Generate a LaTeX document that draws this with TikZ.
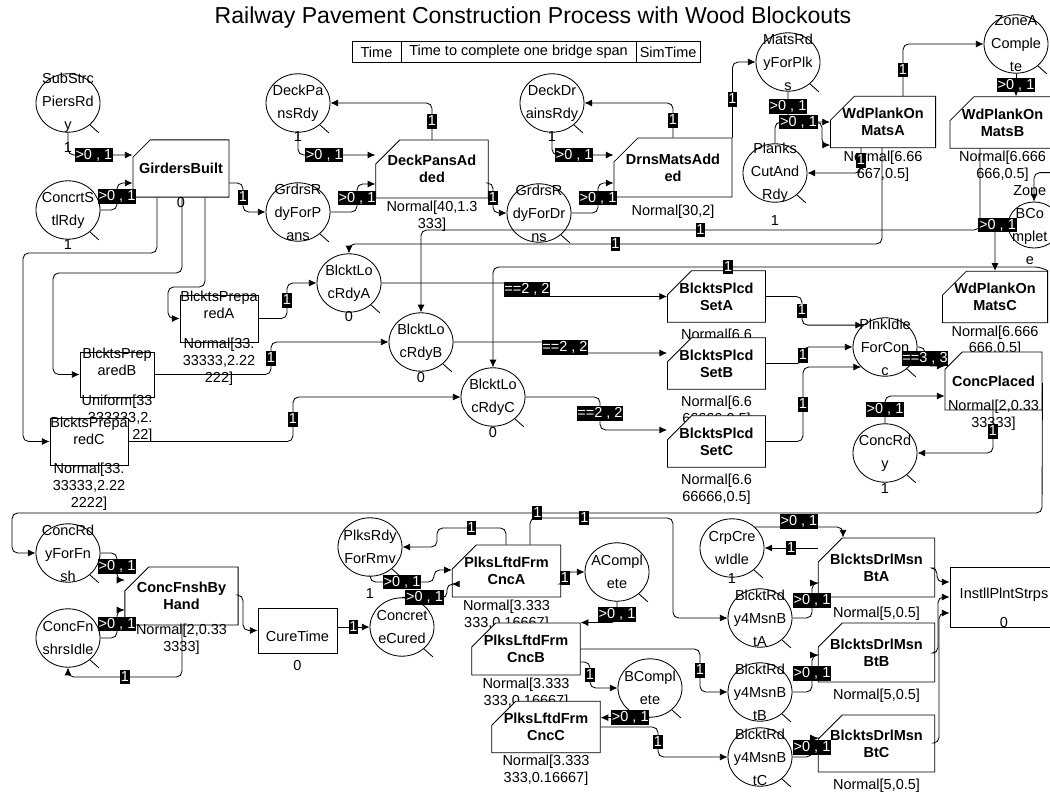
\documentclass[tikz,border=0pt]{standalone}
\usepackage{fontspec}
\setmainfont{Liberation Sans}
\usetikzlibrary{shapes.geometric, shapes.misc, arrows.meta, positioning}

\begin{document}
\begin{tikzpicture}[x=0.025cm, y=-0.025cm,
  queue/.style={ellipse, draw, fill=white, line width=0.6pt,
                minimum width=1.6cm, minimum height=1.46cm, inner sep=0pt,
                append after command={(\tikzlastnode.-45) edge[line width=0.6pt] ++(9,8)}},
  qtext/.style={align=center, inner sep=0pt, font=\fontsize{10.3}{16.4}\selectfont},
  tokencount/.style={inner sep=0pt, font=\fontsize{10.3}{12}\selectfont},
  combi/.style={chamfered rectangle, chamfered rectangle corners=north west,
                chamfered rectangle xsep=8.5pt, chamfered rectangle ysep=8.5pt,
                draw, fill=white, line width=0.6pt, inner sep=0pt, align=center,
                font=\fontsize{10.3}{12}\selectfont\bfseries},
  normal/.style={rectangle, draw, fill=white, line width=0.6pt, inner sep=0pt,
                 align=center, font=\fontsize{10.3}{12}\selectfont},
  dist/.style={align=center, inner sep=0pt, label distance=1.5pt,
               font=\fontsize{10.3}{12}\selectfont},
  arc/.style={-{Latex[length=5.5pt,width=5pt]}, line width=0.6pt, rounded corners=4pt},
  arclbl/.style={fill=black, text=white, sharp corners, inner xsep=0.6pt, inner ysep=0.7pt,
                 text height=7.4pt, text depth=1.6pt, font=\fontsize{10.3}{12}\selectfont},
  tblcell/.style={draw, line width=0.6pt, minimum height=0.525cm, inner sep=0pt,
                  outer sep=0pt, font=\fontsize{10.3}{12}\selectfont},
]
  \path[use as bounding box, fill=white] (0,0) rectangle (1050,793);

  % Title and result table
  \node[font=\fontsize{16.4}{18}\selectfont] (title) at (533,18)
    {Railway Pavement Construction Process with Wood Blockouts};
  \node[tblcell, minimum width=1.225cm] (tTime) at (376.5,52) {Time};
  \node[tblcell, minimum width=5.875cm, right=0pt of tTime] (tSpan) {Time to complete one bridge span};
  \node[tblcell, minimum width=1.6cm, right=0pt of tSpan] (tSim) {SimTime};

  % Girders and decks
  \node[queue, label={[qtext]center:{SubStrc\\PiersRd\\y}},
        label={[tokencount,label distance=6.5pt]below:1}] (subPiers) at (68,103) {};
  \node[queue, label={[qtext]center:{ConcrtS\\tlRdy}},
        label={[tokencount,label distance=0pt]below:1}] (concrtStl) at (68,210) {};
  \node[combi, minimum width=2.4cm, minimum height=1.43cm,
        label={[tokencount,label distance=0pt]below:0}] (girders) at (181,168.5) {GirdersBuilt};
  \node[queue, label={[qtext]center:{DeckPa\\nsRdy}},
        label={[tokencount,label distance=-1pt]below:1}] (deckPansRdy) at (298,103) {};
  \node[queue, label={[qtext]center:{GrdrsR\\dyForP\\ans}}] (grdrsPans) at (298,212) {};
  \node[combi, minimum width=2.4cm, minimum height=1.45cm,
        label={[dist]below:{Normal[40,1.3\\333]}}] (deckPansAdd) at (432,169) {DeckPansAd\\ded};
  \node[queue, label={[qtext]center:{GrdrsR\\dyForDr\\ns}}] (grdrsDrns) at (539,213) {};
  \node[queue, label={[qtext]center:{DeckDr\\ainsRdy}},
        label={[tokencount,label distance=-1pt]below:1}] (deckDrains) at (552,103) {};
  \node[combi, minimum width=2.4cm, minimum height=1.475cm,
        label={[dist,label distance=5.3pt]below:{Normal[30,2]}}] (drnsMats) at (673,167.5) {DrnsMatsAdd\\ed};

  % Wood planks on mats
  \node[queue, label={[qtext]center:{MatsRd\\yForPlk\\s}}] (matsRdy) at (788,62) {};
  \node[queue, label={[qtext]center:{Planks\\CutAnd\\Rdy}},
        label={[tokencount,label distance=9pt]below:1}] (planksCut) at (775,173) {};
  \node[combi, minimum width=2.05cm, minimum height=1.25cm,
        label={[dist,label distance=1.8pt]below:{Normal[6.66\\667,0.5]}}] (wpmA) at (883,122) {WdPlankOn\\MatsA};
  \node[queue, label={[qtext]center:{ZoneA\\Comple\\te}}] (zoneA) at (1016,44) {};
  \node[combi, minimum width=2.275cm, minimum height=1.275cm,
        label={[dist,label distance=1.8pt]below:{Normal[6.666\\666,0.5]}}] (wpmB) at (1002.5,122.5) {WdPlankOn\\MatsB};
  \node[queue, minimum width=1.3cm, minimum height=1.15cm,
        label={[qtext,xshift=-3pt]center:{Zone\\BCo\\mplet\\e}}] (zoneB) at (1034,225) {};
  \node[combi, minimum width=2.25cm, minimum height=1.1cm,
        label={[dist]below:{Normal[6.666\\666,0.5]}}] (wpmC) at (995,297) {WdPlankOn\\MatsC};

  % Blockouts
  \node[queue, label={[qtext]center:{BlcktLo\\cRdyA}},
        label={[tokencount,label distance=-1pt]below:0}] (blrA) at (349,283) {};
  \node[queue, label={[qtext]center:{BlcktLo\\cRdyB}},
        label={[tokencount,label distance=0pt]below:0}] (blrB) at (421,342) {};
  \node[queue, label={[qtext]center:{BlcktLo\\cRdyC}},
        label={[tokencount,label distance=0pt]below:0}] (blrC) at (493,397) {};
  \node[normal, minimum width=1.95cm, minimum height=1.175cm,
        label={[dist,yshift=9.5pt]center:{BlcktsPrepa\\redA}},
        label={[dist,label distance=-3.2pt]below:{Normal[33.\\33333,2.22\\222]}}] (prepA) at (219,318.5) {};
  \node[normal, minimum width=1.85cm, minimum height=1.125cm,
        label={[dist,yshift=8.9pt]center:{BlcktsPrep\\aredB}},
        label={[dist,align=right,label distance=-1.8pt]below:{Uniform[33\\333333,2.\\22]}}] (prepB) at (117,374.5) {};
  \node[normal, minimum width=1.95cm, minimum height=1.175cm,
        label={[dist,yshift=7.8pt]center:{BlcktsPrepa\\redC}},
        label={[dist,label distance=-1.8pt]below:{Normal[33.\\33333,2.22\\2222]}}] (prepC) at (89,441.5) {};
  \node[combi, minimum width=1.825cm, minimum height=1.075cm,
        label={[dist,label distance=4.6pt]below:{Normal[6.6}}] (bpsA) at (716.5,296.5) {BlcktsPlcd\\SetA};
  \node[combi, minimum width=1.825cm, minimum height=1.075cm,
        label={[dist,label distance=4.6pt]below:{Normal[6.6\\66666,0.5]}}] (bpsB) at (716.5,363.5) {BlcktsPlcd\\SetB};
  \node[combi, minimum width=1.825cm, minimum height=1.075cm,
        label={[dist,label distance=4.6pt]below:{Normal[6.6\\66666,0.5]}}] (bpsC) at (716.5,441.5) {BlcktsPlcd\\SetC};

  % Concrete placing
  \node[queue, label={[qtext]center:{PlnkIdle\\ForCon\\c}}] (plnkIdle) at (885,347) {};
  \node[combi, minimum width=2.425cm, minimum height=1.45cm,
        label={[dist,label distance=-7.5pt]below:{Normal[2,0.33\\33333]}}] (concPlaced) at (993.5,381) {ConcPlaced};
  \node[queue, label={[qtext]center:{ConcRd\\y}},
        label={[tokencount,label distance=0.6pt]below:1}] (concRdy) at (885,453) {};

  % Finishing and curing
  \node[queue, label={[qtext]center:{ConcRd\\yForFn\\sh}}] (concRdyFnsh) at (68,553) {};
  \node[queue, label={[qtext]center:{ConcFn\\shrsIdle}}] (concFnshIdle) at (68,638) {};
  \node[combi, minimum width=2.425cm, minimum height=1.45cm,
        label={[dist,label distance=-1pt]below:{Normal[2,0.33\\3333]}}] (concFnsh) at (181.5,596) {ConcFnshBy\\Hand};
  \node[normal, minimum width=1.975cm, minimum height=1.125cm,
        label={[dist,yshift=-3.8pt]center:CureTime},
        label={[tokencount,label distance=4.8pt]below:0}] (cureTime) at (297.5,630.5) {};
  \node[queue, label={[qtext]center:{Concret\\eCured}}] (concCured) at (402,627) {};
  \node[queue, label={[qtext]center:{PlksRdy\\ForRmv}},
        label={[tokencount,label distance=8.4pt]below:1}] (plksRmv) at (370,547) {};
  \node[combi, minimum width=2.275cm, minimum height=1.3cm,
        label={[dist,label distance=1.8pt]below:{Normal[3.333\\333,0.16667]}}] (plksA) at (506.5,571) {PlksLftdFrm\\CncA};
  \node[queue, label={[qtext]center:{ACompl\\ete}}] (aComp) at (617,572) {};
  \node[combi, minimum width=2.3cm, minimum height=1.3cm,
        label={[dist,label distance=1.8pt]below:{Normal[3.333\\333,0.16667]}}] (plksB) at (526,649) {PlksLftdFrm\\CncB};
  \node[queue, label={[qtext]center:{BCompl\\ete}}] (bComp) at (650,688) {};
  \node[combi, minimum width=2.3cm, minimum height=1.25cm,
        label={[dist,label distance=1.3pt]below:{Normal[3.333\\333,0.16667]}}] (plksC) at (546,727) {PlksLftdFrm\\CncC};

  % Drilling and plant straps
  \node[queue, label={[qtext]center:{CrpCre\\wIdle}},
        label={[tokencount,label distance=-3pt]below:1}] (crpCrew) at (732,548) {};
  \node[queue, label={[qtext]center:{BlcktRd\\y4MsnB\\tA}}] (blktMsnA) at (760,618) {};
  \node[queue, label={[qtext]center:{BlcktRd\\y4MsnB\\tB}}] (blktMsnB) at (760,692) {};
  \node[queue, label={[qtext]center:{BlcktRd\\y4MsnB\\tC}}] (blktMsnC) at (760,757) {};
  \node[combi, minimum width=2.425cm, minimum height=1.475cm,
        label={[dist,label distance=6.8pt]below:{Normal[5,0.5]}}] (drlA) at (876.5,567.5) {BlcktsDrlMsn\\BtA};
  \node[combi, minimum width=2.425cm, minimum height=1.475cm,
        label={[dist,label distance=4.6pt]below:{Normal[5,0.5]}}] (drlB) at (876.5,652.5) {BlcktsDrlMsn\\BtB};
  \node[combi, minimum width=2.425cm, minimum height=1.425cm,
        label={[dist,label distance=4.6pt]below:{Normal[5,0.5]}}] (drlC) at (876.5,743.5) {BlcktsDrlMsn\\BtC};
  \node[normal, minimum width=2.7cm, minimum height=1.5cm,
        label={[dist,yshift=1.4pt]center:InstllPlntStrps},
        label={[tokencount,yshift=-17.8pt]center:0}] (instll) at (1004,597) {};

  % Arcs: girders and decks
  \draw[arc] (subPiers.south) |- node[arclbl,pos=0.7]{>0 , 1} (girders.west |- 0,155);
  \draw[arc] (concrtStl.east) -- (117,210) |- node[arclbl,pos=0.25]{>0 , 1} (girders.west |- 0,183);
  \draw[arc] (girders.east |- 0,183) -- (243,183) |- node[arclbl,pos=0.25]{1} (grdrsPans.west);
  \draw[arc] (girders.south -| 205,0) -- (205,287) -- (168,287) |- (prepA.west);
  \draw[arc] (girders.south -| 182,0) -- (182,273) -- (53,273) |- (prepB.west);
  \draw[arc] (girders.south -| 157,0) -- (157,253) -- (23,253) |- (prepC.west);
  \draw[arc] (grdrsPans.east) -- (357,212) |- node[arclbl,pos=0.25]{>0 , 1} (deckPansAdd.west |- 0,184);
  \draw[arc] (deckPansRdy.south) |- node[arclbl,pos=0.67]{>0 , 1} (deckPansAdd.west |- 0,155);
  \draw[arc] (deckPansAdd.north) |- node[arclbl,pos=0.25]{1} (deckPansRdy.east);
  \draw[arc] (deckPansAdd.east |- 0,183) -- (493,183) |- node[arclbl,pos=0.25]{1} (grdrsDrns.west);
  \draw[arc] (grdrsDrns.east) -- (598,213) |- node[arclbl,pos=0.25]{>0 , 1} (drnsMats.west |- 0,183);
  \draw[arc] (deckDrains.south) |- node[arclbl,pos=0.68]{>0 , 1} (drnsMats.west |- 0,155);
  \draw[arc] (drnsMats.north) |- node[arclbl,pos=0.25]{1} (deckDrains.east);
  \draw[arc] (drnsMats.north east) |- node[arclbl,pos=0.25]{1} (matsRdy.west);

  % Arcs: planks and zones
  \draw[arc] (matsRdy.south) |- node[arclbl,pos=0.25]{>0 , 1} (wpmA.west |- 0,122);
  \draw[arc] (planksCut.north) -- (775,122) -- node[arclbl]{>0 , 1} (822,122) |- (wpmA.west |- 0,145);
  \draw[arc] (wpmA.south -| 861,0) |- node[arclbl,pos=0.25]{1} (planksCut.east);
  \draw[arc] (wpmA.north -| 903,0) |- node[arclbl,pos=0.25]{1} (zoneA.west);
  \draw[arc] (zoneA.south) -- node[arclbl]{>0 , 1} (zoneA.south |- wpmB.north);
  \draw[arc] (wpmB.south east) -- ++(0,24) -| (zoneB.north);
  \draw[arc] (zoneB.west) -| node[arclbl,pos=0.4]{>0 , 1} (wpmC.north);
  \draw[arc] (wpmA.south -| 882,0) -- (882,244) -- node[arclbl]{1} (blrA.north |- 0,244) -- (blrA.north);
  \draw[arc] (wpmB.south -| 980,0) -- (980,230) -- node[arclbl]{1} (blrB.north |- 0,230) -- (blrB.north);
  \draw[arc] (wpmC.north east) -- (1040,267) -- node[arclbl,pos=0.57]{1} (blrC.north |- 0,267) -- (blrC.north);

  % Arcs: blockouts
  \draw[arc] (prepA.east) -- (287,318.5) |- node[arclbl,pos=0.25]{1} (blrA.west);
  \draw[arc] (prepB.east) -- (271,374.5) |- node[arclbl,pos=0.25]{1} (blrB.west);
  \draw[arc] (prepC.east) -- (293,441.5) |- node[arclbl,pos=0.25]{1} (blrC.west);
  \draw[arc] (blrA.east) -- (527,283) |- node[arclbl,pos=0.25]{==2 , 2} (bpsA.west);
  \draw[arc] (blrB.east) -- (565,342) |- node[arclbl,pos=0.25]{==2 , 2} (bpsB.west |- 0,353);
  \draw[arc] (blrC.east) -- (600,397) |- node[arclbl,pos=0.25]{==2 , 2} (bpsC.west |- 0,430);
  \draw[arc] (bpsA.east) -- (802,296.5) |- node[arclbl,pos=0.25]{1} (plnkIdle.135);
  \draw[arc] (bpsB.east) -- (803,363.5) |- node[arclbl,pos=0.25]{1} (plnkIdle.west);
  \draw[arc] (bpsC.east) -- (803,441.5) |- node[arclbl,pos=0.25]{1} (plnkIdle.220);

  % Arcs: concrete
  \draw[arc] (plnkIdle.east) -- (925,347) |- node[arclbl,pos=0.3]{==3 , 3} (concPlaced.west |- 0,366);
  \draw[arc] (concRdy.north) |- node[arclbl,pos=0.25]{>0 , 1} (concPlaced.west |- 0,396);
  \draw[arc] (concPlaced.south -| 993,0) |- node[arclbl,pos=0.25]{1} (concRdy.east);
  \draw[arc] (concPlaced.east |- 0,383) -- (1042,513) -- node[arclbl,pos=0.49]{1} (12,513) |- (concRdyFnsh.west);
  \draw[arc] (concRdyFnsh.east) -- (117,553) |- node[arclbl,pos=0.25]{>0 , 1} (concFnsh.west |- 0,580);
  \draw[arc] (concFnshIdle.east) -- (117,638) |- node[arclbl,pos=0.25]{>0 , 1} (concFnsh.west |- 0,610);
  \draw[arc] (concFnsh.south -| 182,0) -- (182,677) -- node[arclbl]{1} (concFnshIdle.south |- 0,677) -- (concFnshIdle.south);
  \draw[arc] (concFnsh.east |- 0,595) -- (243,595) |- (cureTime.west);
  \draw[arc] (cureTime.east |- concCured.west) -- node[arclbl]{1} (concCured.west);

  % Arcs: planks lifted
  \draw[arc] (concCured.north) -- node[arclbl]{>0 , 1} (447,598) |- (plksA.west |- 0,584);
  \draw[arc] (plksRmv.south) -- (370,582) -- node[arclbl]{>0 , 1} (434,582) |- (plksA.west |- 0,570);
  \draw[arc] (plksA.north -| 506,0) -- (506,528) -- node[arclbl]{1} (437,528) |- (plksRmv.east);
  \draw[arc] (plksA.east |- 0,584) -- (565,584) |- node[arclbl,pos=0.25]{1} (aComp.west);
  \draw[arc] (aComp.south) |- node[arclbl,pos=0.3]{>0 , 1} (plksB.north east);
  \draw[arc] (plksB.east |- 0,662) -- (590,662) |- node[arclbl,pos=0.25]{1} (bComp.west);
  \draw[arc] (plksB.east |- 0,649) -- (700,649) |- node[arclbl,pos=0.25]{1} (blktMsnB.west);
  \draw[arc] (bComp.south) -- node[arclbl,pos=0.4]{>0 , 1} (plksC.east |- bComp.south);
  \draw[arc] (plksC.east |- 0,727) -- (658,727) |- node[arclbl,pos=0.25]{1} (blktMsnC.west);
  \draw[arc] (plksA.north -| 530,0) -- (530,518) -- node[arclbl,pos=0.38]{1} (673,518) |- (blktMsnA.west);

  % Arcs: drilling
  \draw[arc] (drlA.west |- crpCrew.east) -- node[arclbl]{1} (crpCrew.east);
  \draw[arc] (crpCrew.north east) -- node[arclbl,yshift=4pt]{>0 , 1} (crpCrew.north east -| 843,0) -- (drlA.north -| 843,0);
  \draw[arc] (blktMsnA.east) -- (812,618) |- node[arclbl,pos=0.25]{>0 , 1} (drlA.west |- 0,583);
  \draw[arc] (blktMsnB.east) -- (812,692) |- node[arclbl,pos=0.25]{>0 , 1} (drlB.west |- 0,655);
  \draw[arc] (blktMsnC.east) -- (812,757) |- node[arclbl,pos=0.25]{>0 , 1} (drlC.west |- 0,738);
  \draw[arc] (drlA.east |- 0,568) -- (937,568) |- (instll.west |- 0,582);
  \draw[arc] (drlB.east |- 0,653) -- (938,653) |- (instll.west |- 0,597);
  \draw[arc] (drlC.east |- 0,743) -- (939,743) |- (instll.west |- 0,613);

\end{tikzpicture}
\end{document}
